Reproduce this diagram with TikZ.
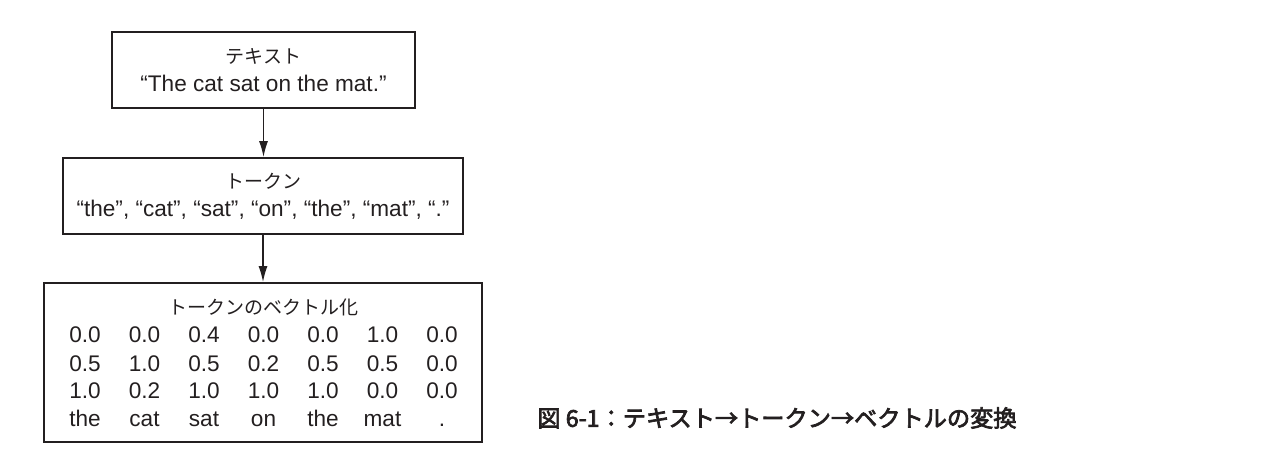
\documentclass[tikz,border=0pt]{standalone}
\usepackage{fontspec}
\setmainfont{Liberation Sans}
\newfontfamily\jp{Noto Sans CJK JP}
\newfontfamily\jpcap{Noto Sans CJK JP}[FakeBold=3]
\usetikzlibrary{arrows.meta}
\definecolor{ink}{RGB}{35,31,32}

\tikzset{
  box/.style={draw=ink, line width=0.85pt, rectangle, inner sep=0pt, align=center, text=ink, font=\fontsize{11.3}{14}\selectfont},
  flow/.style={draw=ink, line width=0.75pt, -{Latex[length=8pt,width=4.5pt]}},
  cell/.style={anchor=base, inner sep=0pt, text=ink, font=\fontsize{11.3}{14}\selectfont},
}

\begin{document}
\begin{tikzpicture}[x=0.5pt,y=-0.5pt]
                \useasboundingbox (0,0) rectangle (1288,464);

                % Draw box for the text
                \node[box, minimum width=151.5pt, minimum height=38pt] (text) at (263.5,70)
                    {{\jp\fontsize{9.5}{14}\selectfont テキスト}\\“The cat sat on the mat.”};

                % Draw box for the tokens
                \node[box, minimum width=200pt, minimum height=38pt] (tokens) at (263,196)
                    {{\jp\fontsize{9.5}{14}\selectfont トークン}\\“the”, “cat”, “sat”, “on”, “the”, “mat”, “.”};

                % Draw box for the vectors
                \node[box, minimum width=219pt, minimum height=79.5pt] (vectors) at (263,362.5) {};
                \node[cell, anchor=center, font=\jp\fontsize{9.5}{14}\selectfont] (vectitle) at (263,307) {トークンのベクトル化};

                % Values of the vectors, one row at a time
                \foreach [count=\r] \y/\row in {343/{0.0,0.0,0.4,0.0,0.0,1.0,0.0},
                                                371/{0.5,1.0,0.5,0.2,0.5,0.5,0.0},
                                                398/{1.0,0.2,1.0,1.0,1.0,0.0,0.0},
                                                426/{the,cat,sat,on,the,mat,.}}
                    \foreach [count=\c] \v in \row
                        \node[cell] (val-\r-\c) at ({85+59.5*(\c-1)},\y) {\v};

                % Draw the arrows between the boxes
                \draw[flow] (text.south) -- (text.south |- tokens.north);
                \draw[flow] (tokens.south) -- (tokens.south |- vectors.north);

                % Caption
                \node[anchor=west, inner sep=0pt, text=ink, font=\jpcap\fontsize{11.6}{14}\selectfont] (caption) at (537,418)
                    {図 6-1：テキスト→トークン→ベクトルの変換};
\end{tikzpicture}
\end{document}
